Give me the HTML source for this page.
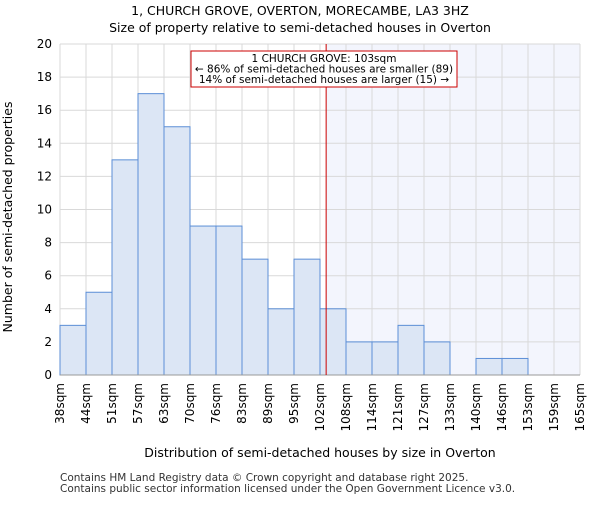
<!DOCTYPE html>
<html><head><meta charset="utf-8"><style>
body{margin:0;background:#fff;}
svg{font-family:"DejaVu Sans","Liberation Sans",sans-serif;}
</style></head><body>
<svg id="c" width="600" height="500" xmlns="http://www.w3.org/2000/svg">
<text x="300" y="15" text-anchor="middle" font-size="12.5">1, CHURCH GROVE, OVERTON, MORECAMBE, LA3 3HZ</text>
<text x="300" y="32" text-anchor="middle" font-size="12.5">Size of property relative to semi-detached houses in Overton</text>
<g id="plot"></g>
<text x="320" y="457" text-anchor="middle" font-size="12.5">Distribution of semi-detached houses by size in Overton</text>
<text transform="translate(12,217) rotate(-90)" text-anchor="middle" font-size="12.5">Number of semi-detached properties</text>
<text x="60" y="481" font-size="10.5" fill="#333">Contains HM Land Registry data © Crown copyright and database right 2025.</text>
<text x="60" y="492" font-size="10.5" fill="#333">Contains public sector information licensed under the Open Government Licence v3.0.</text>
</svg>
<script>
const categories=["38sqm","44sqm","51sqm","57sqm","63sqm","70sqm","76sqm","83sqm","89sqm","95sqm","102sqm","108sqm","114sqm","121sqm","127sqm","133sqm","140sqm","146sqm","153sqm","159sqm","165sqm"];
const counts=[3,5,13,17,15,9,9,7,4,7,4,2,2,3,2,0,1,1,0,0];
const yTicks=[0,2,4,6,8,10,12,14,16,18,20];
const binStart=38, binWidth=6.35;
const propertySize=103;
const NS="http://www.w3.org/2000/svg";
const g=document.getElementById('plot');
const X0=60,X1=580,Y0=375,Y1=44,yMax=20;
const bw=(X1-X0)/counts.length;
const xs=v=>X0+(v-binStart)/binWidth*bw;
const ys=v=>Y0-(v/yMax)*(Y0-Y1);
function mk(t,a){const e=document.createElementNS(NS,t);for(const k in a)e.setAttribute(k,a[k]);g.appendChild(e);return e;}
const px=xs(propertySize);
let e=mk('rect',{x:px,y:Y1,width:X1-px,height:Y0-Y1,fill:'#f3f5fd'});


yTicks.forEach(t=>{const l=mk('line',{x1:X0,x2:X1,y1:ys(t),y2:ys(t),stroke:'#d9d9d9'});


const tx=mk('text',{x:X0-8,y:ys(t)+4,'text-anchor':'end','font-size':'12'});tx.textContent=t;

});
categories.forEach((c,i)=>{const x=X0+i*bw;const l=mk('line',{x1:x,x2:x,y1:Y1,y2:Y0,stroke:'#d9d9d9'});


const tx=mk('text',{transform:`translate(${x+4},${Y0+8}) rotate(-90)`,'text-anchor':'end','font-size':'12'});tx.textContent=c;

});
counts.forEach((v,i)=>{if(v<=0)return;const r=mk('rect',{x:X0+i*bw,y:ys(v),width:bw,height:Y0-ys(v),fill:'#dce6f5',stroke:'#5b8ed6','stroke-width':1});

});
e=mk('line',{x1:X0,x2:X1,y1:Y0,y2:Y0,stroke:'#999'});


e=mk('line',{x1:px,x2:px,y1:Y1,y2:Y0,stroke:'#cc0000','stroke-width':1});


e=mk('rect',{x:191,y:51,width:266,height:36,fill:'#fff',stroke:'#cc0000'});


["1 CHURCH GROVE: 103sqm","← 86% of semi-detached houses are smaller (89)","14% of semi-detached houses are larger (15) →"].forEach((s,i)=>{
const t=mk('text',{x:324,y:62+i*10.5,'text-anchor':'middle','font-size':'10.5'});t.textContent=s;

});
</script>
</body></html>
